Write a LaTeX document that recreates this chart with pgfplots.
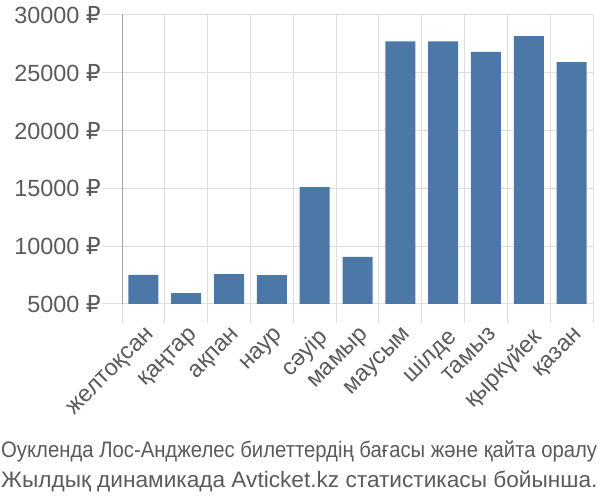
\documentclass[border=0pt]{standalone}
\usepackage{pgfplots}
\pgfplotsset{compat=1.18}
\usepackage{fontspec}
\setmainfont{Liberation Sans}
\newfontfamily\rub{DejaVu Sans}
\definecolor{barc}{HTML}{4C78A8}
\definecolor{gridc}{HTML}{DDDDDD}
\definecolor{domc}{HTML}{888888}
\definecolor{txtc}{HTML}{5A5A5A}
\newcommand{\R}{{\rub ₽}}
\begin{document}
\begin{tikzpicture}
\useasboundingbox (0,0) rectangle (600bp,500bp);
\begin{axis}[
  at={(122bp,196bp)}, anchor=south west,
  scale only axis, width=471bp, height=289bp,
  ybar, bar width=30bp,
  xmin=-0.5, xmax=10.5, ymin=5000, ymax=30000,
  scaled ticks=false,
  xtick={0,...,10},
  xticklabels={желтоқсан,қаңтар,ақпан,наур,сәуір,мамыр,маусым,шілде,тамыз,қыркүйек,қазан},
  minor xtick={-0.5,0.5,...,10.5},
  ytick={5000,10000,...,30000},
  yticklabels={5000 \R,10000 \R,15000 \R,20000 \R,25000 \R,30000 \R},
  tick align=outside, tick pos=left,
  major tick length=20bp, minor tick length=19bp,
  major x tick style={draw=none},
  minor x tick style={draw=gridc, line width=1bp},
  major y tick style={draw=gridc, line width=1bp},
  ymajorgrids, xminorgrids,
  major grid style={draw=gridc, line width=1bp},
  minor grid style={draw=gridc, line width=1bp},
  axis line style={draw=none},
  ticklabel style={font=\fontsize{23.5}{27}\selectfont, text=txtc},
  xticklabel style={rotate=45, anchor=north east, inner sep=1bp, xshift=1bp, yshift=-2bp},
  yticklabel style={inner sep=1bp},
  /pgf/number format/assume math mode=true,
]
\addplot[fill=barc, draw=none] coordinates {
(0,7510) (1,5950) (2,7580) (3,7500) (4,15100) (5,9070) (6,27720) (7,27720) (8,26800) (9,28170) (10,25930)};
\draw[domc, line width=1bp] (axis cs:-0.5,30000) -- (axis cs:-0.5,5000) -- ++(0,-19bp);
\end{axis}
\node[anchor=base west, inner sep=0, text=txtc, font=\fontsize{22.5}{26}\selectfont] at (1bp,42bp) {\scalebox{0.905}[1]{Оукленда Лос-Анджелес билеттердің бағасы және қайта оралу}};
\node[anchor=base west, inner sep=0, text=txtc, font=\fontsize{22.5}{26}\selectfont] at (1bp,13bp) {\scalebox{1.01}[1]{Жылдық динамикада Avticket.kz статистикасы бойынша.}};
\end{tikzpicture}
\end{document}
